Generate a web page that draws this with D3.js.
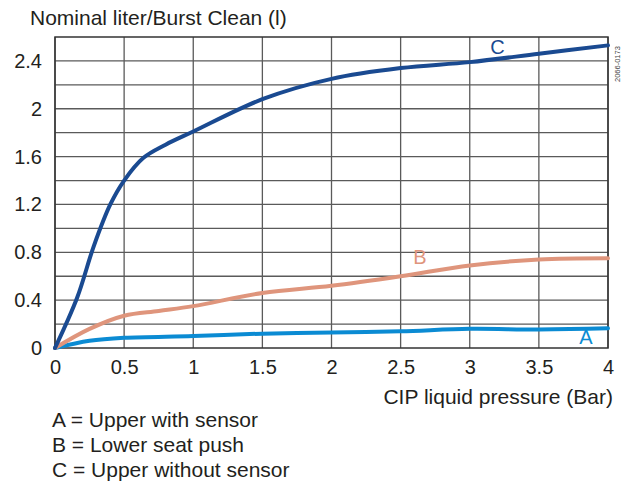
<!DOCTYPE html>
<html>
<head>
<meta charset="utf-8">
<script src="https://cdn.jsdelivr.net/npm/d3@7"></script>
<style>
  body { margin: 0; background: #fff; }
  svg text { font-family: Arial, "Liberation Sans", sans-serif; fill: #231f20; }
</style>
</head>
<body>
<div id="chart"></div>
<script>
// Curve values (pressure in Bar, litres per burst)
const pressureA = [0, 0.25, 0.5, 1, 1.5, 2, 2.5, 3, 3.5, 4];
const litersA = [0, 0.06, 0.085, 0.10, 0.12, 0.13, 0.14, 0.16, 0.155, 0.165];

const pressureB = [0, 0.25, 0.5, 0.75, 1, 1.5, 2, 2.5, 3, 3.5, 4];
const litersB = [0, 0.16, 0.27, 0.31, 0.35, 0.46, 0.52, 0.60, 0.69, 0.74, 0.75];

const pressureC = [0, 0.16, 0.28, 0.4, 0.5, 0.64, 0.8, 1, 1.5, 2, 2.5, 3, 3.5, 4];
const litersC = [0, 0.42, 0.85, 1.20, 1.40, 1.59, 1.70, 1.81, 2.08, 2.25, 2.34, 2.39, 2.46, 2.53];

const xTicks = [0, 0.5, 1, 1.5, 2, 2.5, 3, 3.5, 4];
const yTicks = [0, 0.4, 0.8, 1.2, 1.6, 2, 2.4];
const yGrid = [0.2, 0.4, 0.6, 0.8, 1.0, 1.2, 1.4, 1.6, 1.8, 2.0, 2.2, 2.4];

const legendLines = ["A = Upper with sensor", "B = Lower seat push", "C = Upper without sensor"];

const width = 626, height = 486;
const margin = { top: 37, right: 18, bottom: 138, left: 55 };
const w = width - margin.left - margin.right;
const h = height - margin.top - margin.bottom;

const svg = d3.select("#chart").append("svg")
    .attr("width", width)
    .attr("height", height);

const g = svg.append("g")
    .attr("transform", `translate(${margin.left},${margin.top})`);

const x = d3.scaleLinear().domain([0, 4]).range([0, w]);
const y = d3.scaleLinear().domain([0, 2.6]).range([h, 0]);

// grid
g.selectAll(".vgrid")
    .data(xTicks)
    .enter()
    .append("line")
    .attr("x1", d => x(d))
    .attr("x2", d => x(d))
    .attr("y1", 0)
    .attr("y2", h)
    .attr("stroke", "#5a5a5a")
    .attr("stroke-width", 1.3);

g.selectAll(".hgrid")
    .data(yGrid)
    .enter()
    .append("line")
    .attr("x1", 0)
    .attr("x2", w)
    .attr("y1", d => y(d))
    .attr("y2", d => y(d))
    .attr("stroke", "#5a5a5a")
    .attr("stroke-width", 1.3);

g.append("rect")
    .attr("width", w)
    .attr("height", h)
    .attr("fill", "none")
    .attr("stroke", "#333")
    .attr("stroke-width", 1.5);

// axes (labels only)
const xAxis = g.append("g")
    .attr("transform", `translate(0,${h})`)
    .call(d3.axisBottom(x).tickValues(xTicks).tickSize(0).tickPadding(12).tickFormat(d3.format("")));
const yAxis = g.append("g")
    .call(d3.axisLeft(y).tickValues(yTicks).tickSize(0).tickPadding(13).tickFormat(d3.format("")));
[xAxis, yAxis].forEach(a => {
    a.select(".domain").remove();
    a.selectAll("text")
        .style("font-size", "20px")
        .style("font-family", "Arial, 'Liberation Sans', sans-serif")
        .attr("fill", "#231f20");
});

// curves
const line = d3.line()
    .x(d => x(d[0]))
    .y(d => y(d[1]))
    .curve(d3.curveCatmullRom.alpha(0.5));

const series = [
    { xs: pressureA, ys: litersA, color: "#0b8bd3", label: "A", lx: 3.84, ly: 0.03 },
    { xs: pressureB, ys: litersB, color: "#df957c", label: "B", lx: 2.64, ly: 0.70 },
    { xs: pressureC, ys: litersC, color: "#1a4a91", label: "C", lx: 3.2, ly: 2.46 }
];

series.forEach(s => {
    g.append("path")
        .datum(s.xs.map((v, i) => [v, s.ys[i]]))
        .attr("fill", "none")
        .attr("stroke", s.color)
        .attr("stroke-width", 4)
        .attr("stroke-linecap", "round")
        .attr("d", line);

    g.append("text")
        .attr("x", x(s.lx))
        .attr("y", y(s.ly))
        .attr("text-anchor", "middle")
        .style("font-size", "20px")
        .style("fill", s.color)
        .text(s.label);
});

// titles
svg.append("text")
    .attr("x", 30)
    .attr("y", 25)
    .style("font-size", "21px")
    .text("Nominal liter/Burst Clean (l)");

svg.append("text")
    .attr("x", 613)
    .attr("y", 404)
    .attr("text-anchor", "end")
    .style("font-size", "21px")
    .text("CIP liquid pressure (Bar)");

svg.append("text")
    .attr("transform", "translate(620,82) rotate(-90)")
    .style("font-size", "7.5px")
    .style("fill", "#444")
    .text("2066-0173");

svg.selectAll(".legend")
    .data(legendLines)
    .enter()
    .append("text")
    .attr("x", 52)
    .attr("y", (d, i) => 427 + i * 25)
    .style("font-size", "21px")
    .text(d => d);
</script>
</body>
</html>
